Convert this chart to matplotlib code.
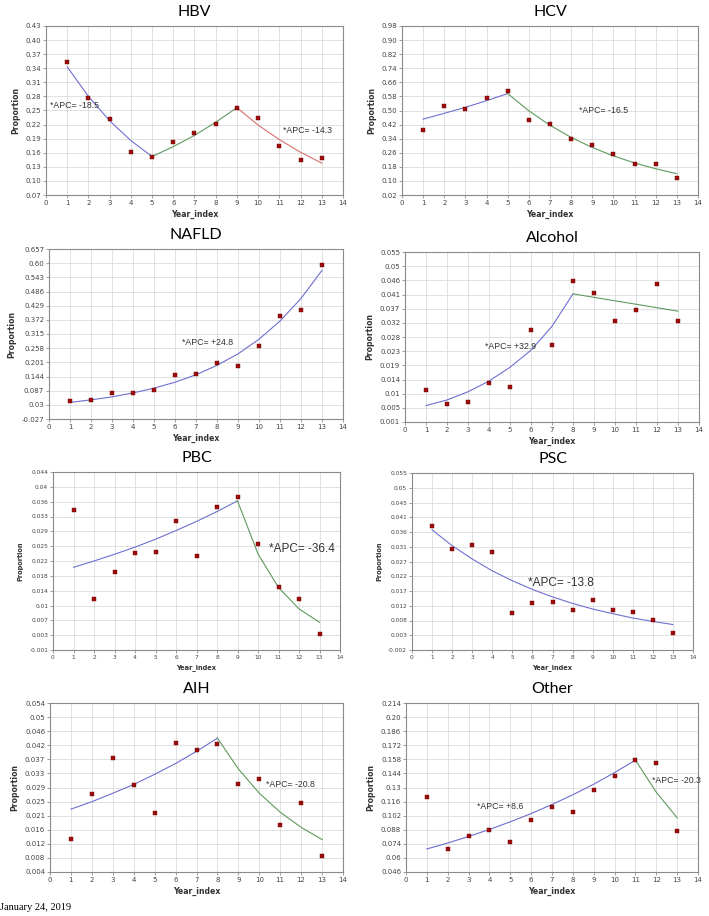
import numpy as np
import matplotlib
matplotlib.use("Agg")
import matplotlib.pyplot as plt

# ---- data ----
years = list(range(1, 14))

hbv_obs = [0.354, 0.276, 0.231, 0.162, 0.152, 0.183, 0.203, 0.221, 0.256, 0.234, 0.174, 0.144, 0.149]
hbv_fit = [0.343, 0.280, 0.228, 0.186, 0.152, 0.173, 0.197, 0.225, 0.256, 0.219, 0.188, 0.161, 0.138]
hbv_joins = [1, 5, 9, 13]
hbv_ticks = ['0.07', '0.10', '0.13', '0.16', '0.19', '0.22', '0.25', '0.28', '0.31', '0.34', '0.37', '0.40', '0.43']
hbv_apc = [("*APC= -18.5", 0.2, 0.261), ("*APC= -14.3", 11.15, 0.208)]

hcv_obs = [0.392, 0.526, 0.511, 0.572, 0.613, 0.447, 0.424, 0.338, 0.302, 0.254, 0.198, 0.198, 0.118]
hcv_fit = [0.451, 0.484, 0.518, 0.556, 0.596, 0.498, 0.416, 0.347, 0.290, 0.242, 0.202, 0.169, 0.141]
hcv_joins = [1, 5, 13]
hcv_ticks = ['0.02', '0.10', '0.18', '0.26', '0.34', '0.42', '0.50', '0.58', '0.66', '0.74', '0.82', '0.90', '0.98']
hcv_apc = [("*APC= -16.5", 8.36, 0.498)]

nafld_obs = [0.044, 0.051, 0.078, 0.078, 0.090, 0.152, 0.156, 0.199, 0.186, 0.265, 0.388, 0.412, 0.594]
nafld_fit = [0.040, 0.050, 0.062, 0.078, 0.097, 0.121, 0.151, 0.189, 0.235, 0.294, 0.367, 0.458, 0.571]
nafld_joins = [1, 13]
nafld_ticks = ['-0.027', '0.03', '0.087', '0.144', '0.201', '0.258', '0.315', '0.372', '0.429', '0.486', '0.543', '0.60', '0.657']
nafld_apc = [("*APC= +24.8", 6.35, 0.28)]

alcohol_obs = [0.0111, 0.0068, 0.0072, 0.0133, 0.0121, 0.0301, 0.0256, 0.0458, 0.0421, 0.0330, 0.0367, 0.0447, 0.0332]
alcohol_fit = [0.0062, 0.0080, 0.0106, 0.0140, 0.0184, 0.0238, 0.0314, 0.0417, 0.0406, 0.0395, 0.0384, 0.0373, 0.0362]
alcohol_joins = [1, 8, 13]
alcohol_ticks = ['0.001', '0.005', '0.01', '0.014', '0.019', '0.023', '0.028', '0.032', '0.037', '0.041', '0.046', '0.05', '0.055']
alcohol_apc = [("*APC= +32.9", 3.81, 0.0251)]

pbc_obs = [0.0345, 0.0119, 0.0188, 0.0234, 0.0238, 0.0317, 0.0227, 0.0351, 0.0377, 0.0257, 0.0150, 0.0118, 0.0031]
pbc_fit = [0.0199, 0.0215, 0.0232, 0.0250, 0.0270, 0.0292, 0.0315, 0.0340, 0.0367, 0.0233, 0.0148, 0.0094, 0.0060]
pbc_joins = [1, 9, 13]
pbc_ticks = ['-0.001', '0.003', '0.007', '0.01', '0.014', '0.018', '0.022', '0.025', '0.029', '0.033', '0.036', '0.04', '0.044']
pbc_apc = [("*APC= -36.4", 10.52, 0.0245)]

psc_obs = [0.0380, 0.0304, 0.0317, 0.0297, 0.0098, 0.0130, 0.0134, 0.0108, 0.0140, 0.0109, 0.0103, 0.0076, 0.0036]
psc_fit = [0.0367, 0.0316, 0.0273, 0.0235, 0.0203, 0.0175, 0.0151, 0.0130, 0.0112, 0.0097, 0.0083, 0.0072, 0.0062]
psc_joins = [1, 13]
psc_ticks = ['-0.002', '0.003', '0.008', '0.012', '0.017', '0.022', '0.027', '0.031', '0.036', '0.041', '0.045', '0.05', '0.055']
psc_apc = [("*APC= -13.8", 5.78, 0.0195)]

aih_obs = [0.0138, 0.0272, 0.0377, 0.0296, 0.0214, 0.0423, 0.0402, 0.0418, 0.0300, 0.0315, 0.0180, 0.0243, 0.0087]
aih_fit = [0.0226, 0.0248, 0.0273, 0.0299, 0.0329, 0.0361, 0.0397, 0.0436, 0.0345, 0.0273, 0.0217, 0.0172, 0.0136]
aih_joins = [1, 8, 13]
aih_ticks = ['0.004', '0.008', '0.012', '0.016', '0.021', '0.025', '0.029', '0.033', '0.037', '0.042', '0.046', '0.05', '0.054']
aih_apc = [("*APC= -20.8", 10.33, 0.030)]

other_obs = [0.1202, 0.0692, 0.0818, 0.0874, 0.0762, 0.0977, 0.1106, 0.1060, 0.1278, 0.1414, 0.1577, 0.1544, 0.0864]
other_fit = [0.0689, 0.0748, 0.0813, 0.0883, 0.0959, 0.1041, 0.1131, 0.1228, 0.1333, 0.1448, 0.1572, 0.1253, 0.0999]
other_joins = [1, 11, 13]
other_ticks = ['0.046', '0.06', '0.074', '0.088', '0.102', '0.116', '0.13', '0.144', '0.158', '0.172', '0.186', '0.20', '0.214']
other_apc = [("*APC= +8.6", 3.4, 0.111), ("*APC= -20.3", 11.8, 0.137)]

seg_colors = ['#6f6fd0', '#5f9a5f', '#d87070']

# (title, obs, fit, joins, ticks, apc, pixel box left/right/top/bottom, scale)
panels = [
    ("HBV", hbv_obs, hbv_fit, hbv_joins, hbv_ticks, hbv_apc, (46, 343, 26, 195), 1.0),
    ("HCV", hcv_obs, hcv_fit, hcv_joins, hcv_ticks, hcv_apc, (402, 698, 26, 195), 1.0),
    ("NAFLD", nafld_obs, nafld_fit, nafld_joins, nafld_ticks, nafld_apc, (49, 343, 249, 419), 1.0),
    ("Alcohol", alcohol_obs, alcohol_fit, alcohol_joins, alcohol_ticks, alcohol_apc, (405, 699, 252, 422), 1.0),
    ("PBC", pbc_obs, pbc_fit, pbc_joins, pbc_ticks, pbc_apc, (53, 340, 472, 650), 0.85),
    ("PSC", psc_obs, psc_fit, psc_joins, psc_ticks, psc_apc, (412, 693, 473, 650), 0.85),
    ("AIH", aih_obs, aih_fit, aih_joins, aih_ticks, aih_apc, (50, 343, 703, 872), 1.0),
    ("Other", other_obs, other_fit, other_joins, other_ticks, other_apc, (406, 698, 703, 872), 1.0),
]

W, H = 709, 916
fig = plt.figure(figsize=(W / 100, H / 100), dpi=100)
fig.patch.set_facecolor('white')

for title, obs, fit, joins, ticks, apc, box, sc in panels:
    l, r, t, b = box
    ax = fig.add_axes([l / W, 1 - b / H, (r - l) / W, (b - t) / H])
    ylo, yhi = float(ticks[0]), float(ticks[-1])

    # joinpoint segments
    for k in range(len(joins) - 1):
        i0, i1 = joins[k] - 1, joins[k + 1]
        ax.plot(years[i0:i1], fit[i0:i1], color=seg_colors[k], lw=0.8, zorder=3)
    ax.plot(years, obs, 's', color='#9b0d0d', markersize=2.5, mec='#7a0000', mew=0.3, zorder=4)

    big = title in ("PBC", "PSC")
    for txt, tx, ty in apc:
        ax.text(tx, ty, txt, fontsize=8.5 if big else 6.3, color='#333333',
                ha='left', va='center', family='Liberation Sans', zorder=5)

    ax.set_xlim(0, 14)
    ax.set_ylim(ylo, yhi)
    ax.set_xticks(range(0, 15))
    ax.set_yticks(np.linspace(ylo, yhi, len(ticks)))
    ax.set_yticklabels(ticks)
    ax.tick_params(labelsize=5.0 * sc, length=2, width=0.5, color='#777777',
                   labelcolor='#444444', pad=1.5)
    ax.grid(True, color='#dcdcdc', lw=0.6)
    ax.set_axisbelow(True)
    for s in ax.spines.values():
        s.set_color('#8a8a8a')
        s.set_linewidth(0.8)
    ax.set_xlabel("Year_index", fontsize=5.6 * sc, fontweight='bold', color='#333333', labelpad=3)
    ax.set_ylabel("Proportion", fontsize=5.6 * sc, fontweight='bold', color='#333333', labelpad=4)
    ax.set_title(title, fontsize=11.5, family='Lato', pad=7)

fig.text(0.0, 1 - 908 / H, "January 24, 2019", family='Liberation Serif', fontsize=7.5,
         ha='left', va='center')

fig.savefig("out.png", dpi=100, facecolor='white')
